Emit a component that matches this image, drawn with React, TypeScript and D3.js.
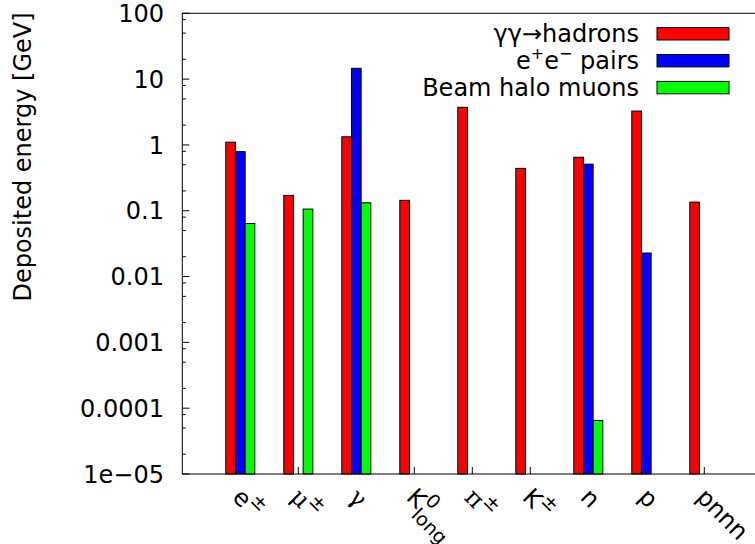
import * as d3 from "d3";

// categories on the x axis: base text, superscript, subscript
const categories = ["e", "μ", "γ", "K", "π", "K", "n", "p", "pnnn"];
const catSup = ["±", "±", "", "0", "±", "±", "", "", ""];
const catSub = ["", "", "", "long", "", "", "", "", ""];
const greek = new Set(["μ", "γ", "π"]);

// deposited energy [GeV], null = no bar
const hadrons = [1.1, 0.171, 1.33, 0.144, 3.73, 0.44, 0.65, 3.27, 0.135];
const pairs = [0.79, null, 14.6, null, null, null, 0.51, 0.0228, null];
const haloMuons = [0.064, 0.106, 0.132, null, null, null, 6.5e-5, null, null];

const seriesColors = ["#ff0000", "#0000ff", "#00ff00"];
const yTicks = [1e-5, 1e-4, 1e-3, 0.01, 0.1, 1, 10, 100];
const yTickLabels = ["1e\u221205", "0.0001", "0.001", "0.01", "0.1", "1", "10", "100"];
const minorMult = [2, 5, 8];

const W = 755;
const H = 544;
const font = "DejaVu Sans";

const App = () => {
  const left = 182.3;
  const right = 762.3;
  const top = 13.3;
  const bottom = 474;

  const x = d3.scaleLinear().domain([-1, 9]).range([left, right]);
  const y = d3.scaleLog().domain([1e-5, 100]).range([bottom, top]);
  const bw = x(1 / 6) - x(0);

  const series = [hadrons, pairs, haloMuons];

  const minorTicks = yTicks
    .slice(0, -1)
    .flatMap((d) => minorMult.map((m) => m * d));

  // legend rows
  const legendY = d3.scaleLinear().domain([0, 1]).range([33.8, 60.7]);

  return (
    <svg
      width={W}
      height={H}
      style={{ position: "absolute", left: 0, top: 0, background: "#fff" }}
      fontFamily={font}
    >
      <rect width={W} height={H} fill="#fff" />

      {/* y ticks */}
      {yTicks.map((t, i) => (
        <g key={"yt" + i}>
          <line x1={left} x2={left + 7} y1={y(t)} y2={y(t)} stroke="#000" />
          <line x1={right} x2={right - 7} y1={y(t)} y2={y(t)} stroke="#000" />
          <text
            x={164}
            y={y(t)}
            dy="0.36em"
            textAnchor="end"
            fontSize={24}
            fill="#000"
          >
            {yTickLabels[i]}
          </text>
        </g>
      ))}
      {minorTicks.map((t, i) => (
        <g key={"ym" + i}>
          <line x1={left} x2={left + 3.5} y1={y(t)} y2={y(t)} stroke="#000" />
          <line x1={right} x2={right - 3.5} y1={y(t)} y2={y(t)} stroke="#000" />
        </g>
      ))}

      {/* x ticks */}
      {categories.map((_, i) => (
        <line
          key={"xt" + i}
          x1={x(i)}
          x2={x(i)}
          y1={bottom}
          y2={bottom - 7}
          stroke="#000"
        />
      ))}

      {/* bars */}
      {series.map((vals, s) =>
        vals.map((v, i) =>
          v == null ? null : (
            <rect
              key={`b${s}-${i}`}
              x={x(i + (s - 1) / 6 - 1 / 12)}
              y={y(v)}
              width={bw}
              height={bottom - y(v)}
              fill={seriesColors[s]}
              stroke="#000"
              strokeWidth={1}
            />
          )
        )
      )}

      {/* frame */}
      <rect
        x={left}
        y={top}
        width={right - left}
        height={bottom - top}
        fill="none"
        stroke="#000"
        strokeWidth={1}
      />

      {/* x labels, rotated */}
      {categories.map((c, i) => (
        <g key={"xl" + i} transform={`translate(${x(i) - 9},${bottom + 24.5}) rotate(45)`}>
          <text fontSize={24} fill="#000">
            <tspan fontFamily={greek.has(c) ? "DejaVu Serif" : font}>{c}</tspan>
            {catSup[i] && (
              <tspan dy={-11} fontSize={19}>
                {catSup[i]}
              </tspan>
            )}
            {catSub[i] && (
              <tspan x={16} dy={20} fontSize={19}>
                {catSub[i]}
              </tspan>
            )}
          </text>
        </g>
      ))}

      {/* y axis title */}
      <text
        transform={`translate(31,157) rotate(-90)`}
        textAnchor="middle"
        fontSize={24}
        fill="#000"
      >
        Deposited energy [GeV]
      </text>

      {/* legend */}
      <g>
        <text x={639} y={legendY(0) + 8} textAnchor="end" fontSize={24}>
          γγ→hadrons
        </text>
        <text
          x={639}
          y={legendY(1) + 8}
          textAnchor="end"
          fontSize={24}
          style={{ whiteSpace: "pre" }}
        >
          e<tspan dy={-10} fontSize={16}>+</tspan>
          <tspan dy={10}>e</tspan>
          <tspan dy={-10} fontSize={16}>{"\u2212"}</tspan>
          <tspan dy={10}>{" pairs"}</tspan>
        </text>
        <text x={639} y={legendY(2) + 8} textAnchor="end" fontSize={24}>
          Beam halo muons
        </text>
        {seriesColors.map((col, s) => (
          <rect
            key={"lg" + s}
            x={657}
            y={legendY(s) - 6.2}
            width={72}
            height={12.4}
            fill={col}
            stroke="#000"
          />
        ))}
      </g>
    </svg>
  );
};

export default App;
